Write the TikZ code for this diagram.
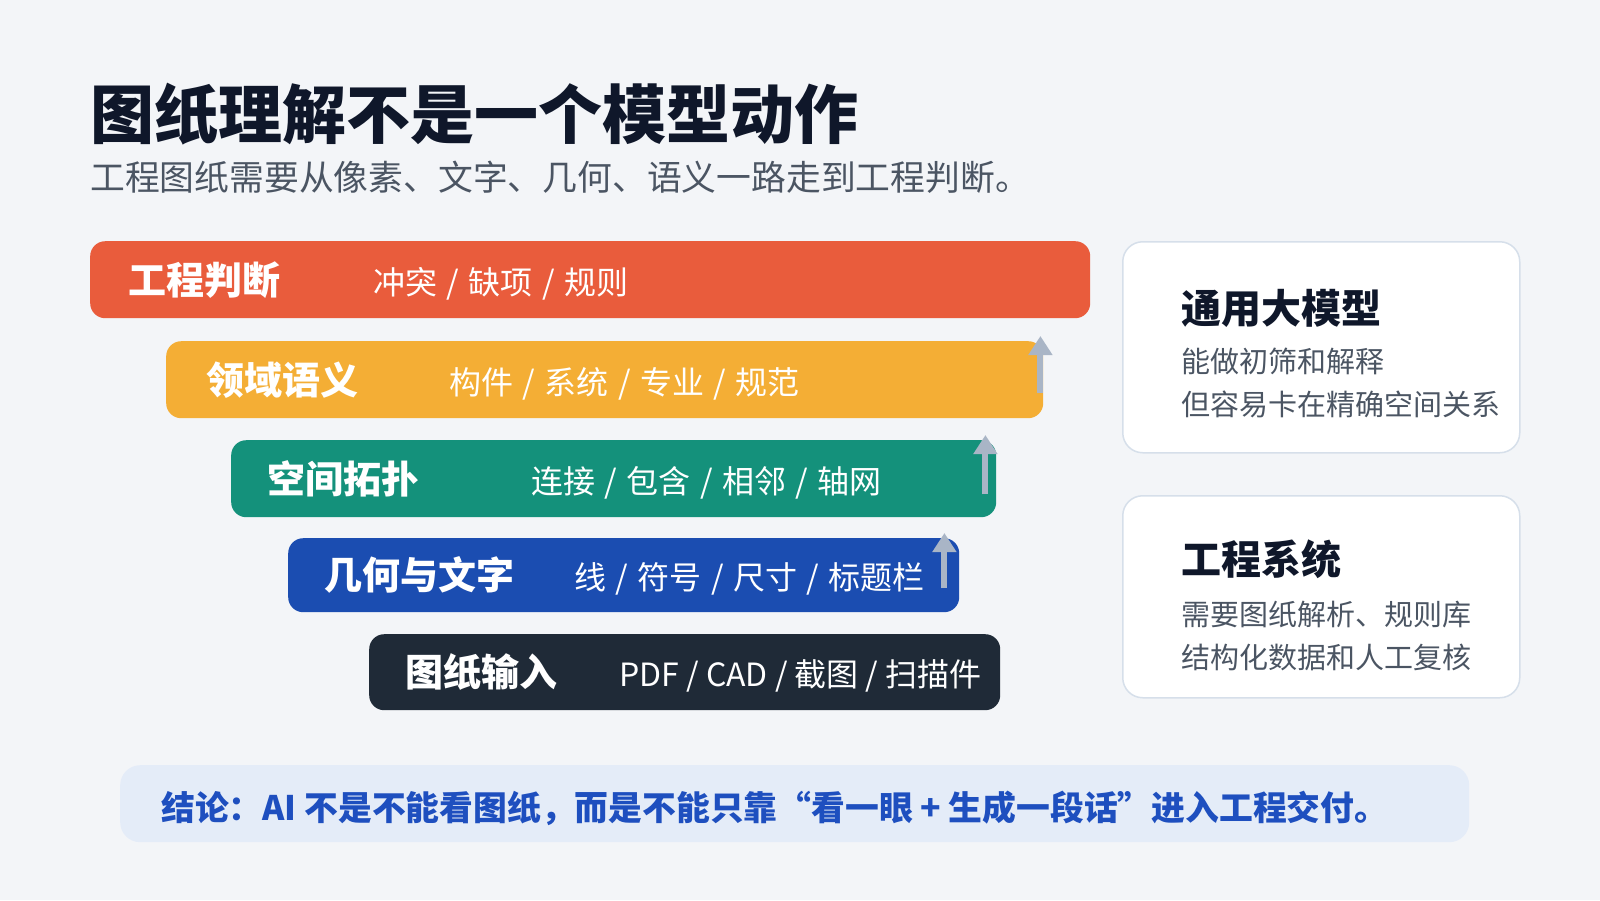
\documentclass[tikz,border=0pt]{standalone}
\usepackage{fontspec}
\setmainfont{Noto Sans CJK SC}
\usepackage{xcolor}
\usepackage{tikz}
\usetikzlibrary{arrows.meta, positioning}
\definecolor{pagebg}{HTML}{F3F5F8}
\definecolor{barred}{HTML}{E95C3C}
\definecolor{barorange}{HTML}{F4AE35}
\definecolor{barteal}{HTML}{14917B}
\definecolor{barblue}{HTML}{1B4DB1}
\definecolor{bardark}{HTML}{1F2A37}
\definecolor{arrowgray}{HTML}{A9B5C6}
\definecolor{titleink}{HTML}{0F172A}
\definecolor{subink}{HTML}{4B5563}
\definecolor{cardline}{HTML}{D6DFEA}
\definecolor{notefill}{HTML}{E4ECF8}
\definecolor{noteink}{HTML}{1E4FBF}
\newcommand{\slashsep}{\hspace{9.5pt}/\hspace{9.5pt}}
\tikzstyle{bar} = [rectangle, rounded corners=15pt, anchor=north west, minimum height=77pt, inner sep=0pt]
\tikzstyle{barlabel} = [anchor=west, inner sep=0pt, text=white, font=\fontsize{38}{40}\selectfont\bfseries]
\tikzstyle{baritems} = [anchor=west, inner sep=0pt, yshift=-4pt, text=white, font=\fontsize{32}{34}\selectfont]
\tikzstyle{card} = [rectangle, rounded corners=20pt, anchor=north west, fill=white, draw=cardline, line width=1.5pt, minimum width=397pt, inner sep=0pt]
\tikzstyle{cardtitle} = [anchor=west, inner sep=0pt, text=titleink, font=\fontsize{40}{42}\selectfont\bfseries]
\tikzstyle{cardtext} = [anchor=north west, inner sep=0pt, text=subink, align=left, font=\fontsize{29}{43}\selectfont]
\tikzstyle{arrow-up} = [line width=6pt, arrowgray, -{Triangle[width=23pt,length=19pt]}]

\begin{document}
\begin{tikzpicture}[x=1pt, y=-1pt]
        \useasboundingbox (0,0) rectangle (1600,900);
        \fill [pagebg] (0,0) rectangle (1600,900);

        \node [anchor=west, inner sep=0pt, text=titleink, font=\fontsize{64}{66}\selectfont\bfseries] (title) at (90,114) {图纸理解不是一个模型动作};
        \node [anchor=west, inner sep=0pt, text=subink, font=\fontsize{34.8}{38}\selectfont] (subtitle) at (90,177) {工程图纸需要从像素、文字、几何、语义一路走到工程判断。};

        \node [bar, fill=barred, minimum width=1000pt] (judge) at (90,241) {};
        \node [bar, fill=barorange, minimum width=877pt] (domain) at (166,341) {};
        \node [bar, fill=barteal, minimum width=765pt] (space) at (231,440) {};
        \node [bar, fill=barblue, minimum width=671pt, minimum height=74pt] (geom) at (288,538) {};
        \node [bar, fill=bardark, minimum width=631pt, minimum height=76pt] (input) at (369,634) {};

        \node [barlabel, right=38pt of judge.west] (judge-label) {工程判断};
        \node [baritems, right=283pt of judge.west] (judge-items) {冲突\slashsep 缺项\slashsep 规则};
        \node [barlabel, right=40pt of domain.west] (domain-label) {领域语义};
        \node [baritems, right=283pt of domain.west] (domain-items) {构件\slashsep 系统\slashsep 专业\slashsep 规范};
        \node [barlabel, right=36pt of space.west] (space-label) {空间拓扑};
        \node [baritems, right=300pt of space.west] (space-items) {连接\slashsep 包含\slashsep 相邻\slashsep 轴网};
        \node [barlabel, right=36pt of geom.west] (geom-label) {几何与文字};
        \node [baritems, right=286pt of geom.west] (geom-items) {线\slashsep 符号\slashsep 尺寸\slashsep 标题栏};
        \node [barlabel, right=36pt of input.west] (input-label) {图纸输入};
        \node [baritems, right=250pt of input.west] (input-items) {PDF / CAD / 截图 / 扫描件};

        \draw [arrow-up] ([xshift=-3pt, yshift=25pt]domain.south east) -- ([xshift=-3pt, yshift=5pt]domain.north east);
        \draw [arrow-up] ([xshift=-11pt, yshift=23pt]space.south east) -- ([xshift=-11pt, yshift=5pt]space.north east);
        \draw [arrow-up] ([xshift=-15pt, yshift=24pt]geom.south east) -- ([xshift=-15pt, yshift=5pt]geom.north east);

        \node [card, minimum height=211pt] (llm) at (1122,241) {};
        \node [cardtitle] (llm-title) at ([xshift=59pt, yshift=-67pt]llm.north west) {通用大模型};
        \node [cardtext] (llm-text) at ([xshift=59pt, yshift=-107pt]llm.north west) {能做初筛和解释\\但容易卡在精确空间关系};

        \node [card, minimum height=202pt] (eng) at (1122,495) {};
        \node [cardtitle] (eng-title) at ([xshift=59pt, yshift=-64pt]eng.north west) {工程系统};
        \node [cardtext] (eng-text) at ([xshift=59pt, yshift=-106pt]eng.north west) {需要图纸解析、规则库\\结构化数据和人工复核};

        \node [rectangle, rounded corners=20pt, anchor=north west, fill=notefill, minimum width=1349pt, minimum height=77pt, inner sep=0pt] (note) at (120,765) {};
        \node [anchor=west, inner sep=0pt, yshift=-5pt, text=noteink, font=\fontsize{33.8}{36}\selectfont\bfseries, right=41pt of note.west] (note-text) {结论：AI 不是不能看图纸，而是不能只靠“看一眼 + 生成一段话”进入工程交付。};
\end{tikzpicture}
\end{document}
